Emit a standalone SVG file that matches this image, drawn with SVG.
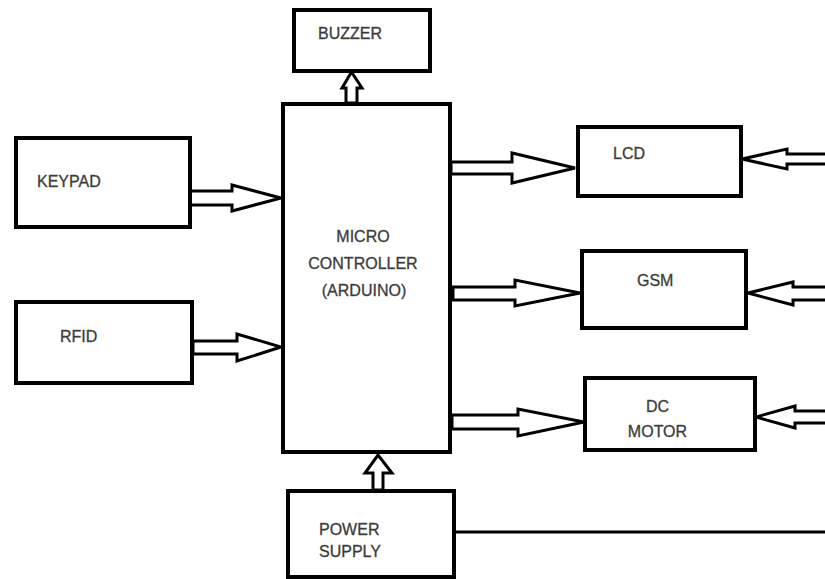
<svg xmlns="http://www.w3.org/2000/svg" width="825" height="579" viewBox="0 0 825 579">
<style>
.box{fill:#fff;stroke:#000;stroke-width:4}
.arr{fill:#fff;stroke:#000;stroke-width:3;stroke-linejoin:miter}
.t{font-family:"Liberation Sans",Arial,sans-serif;font-size:16px;fill:#333;stroke:#555;stroke-width:0.35}
.wire{fill:none;stroke:#000;stroke-width:3}
</style>
<rect width="825" height="579" fill="#fff"/>
<g id="connectors">
<polygon class="arr" points="346,103 346,88 342,88 351.5,72 362,88 357,88 357,103"/>
<polygon class="arr" points="373,490 373,473 365,473 378,455 392,473 383,473 383,490"/>
<polygon class="arr" points="190,191 232,191 232,185 281,198 232,211 232,205 190,205"/>
<polygon class="arr" points="193,341 237,341 237,334 281,347 237,361 237,354 193,354"/>
<polygon class="arr" points="451,162 512,162 512,153 575,168 512,183 512,174 451,174"/>
<polygon class="arr" points="453,287 515,287 515,280 580,293 515,306 515,300 453,300"/>
<polygon class="arr" points="452,415 518,415 518,409 584,422 518,436 518,429 452,429"/>
<polygon class="arr" points="828,154 787,154 787,149 742,159 787,169 787,164 828,164"/>
<polygon class="arr" points="828,287 793,287 793,282 748,293 793,305 793,300 828,300"/>
<polygon class="arr" points="828,411 795,411 795,406 756,417 795,428 795,423 828,423"/>
<path class="wire" d="M455,532 L825,532"/>
</g>
<g id="buzzer"><rect class="box" x="294" y="10" width="136" height="61"/><text class="t" x="318" y="39">BUZZER</text></g>
<g id="keypad"><rect class="box" x="16" y="138" width="174" height="89"/><text class="t" x="37" y="187">KEYPAD</text></g>
<g id="rfid"><rect class="box" x="16" y="302" width="176" height="81"/><text class="t" x="60" y="342">RFID</text></g>
<g id="microcontroller"><rect class="box" x="283" y="104" width="167" height="348"/>
<text class="t" x="363" y="242" text-anchor="middle">MICRO</text>
<text class="t" x="363" y="269" text-anchor="middle">CONTROLLER</text>
<text class="t" x="364" y="296" text-anchor="middle">(ARDUINO)</text></g>
<g id="lcd"><rect class="box" x="578" y="127" width="163" height="69"/><text class="t" x="613" y="159">LCD</text></g>
<g id="gsm"><rect class="box" x="582" y="251" width="164" height="77"/><text class="t" x="637" y="286">GSM</text></g>
<g id="dcmotor"><rect class="box" x="585" y="378" width="170" height="72"/>
<text class="t" x="657.5" y="412" text-anchor="middle">DC</text>
<text class="t" x="657.5" y="437" text-anchor="middle">MOTOR</text></g>
<g id="powersupply"><rect class="box" x="288" y="491" width="166" height="86"/>
<text class="t" x="319" y="535">POWER</text>
<text class="t" x="319" y="557">SUPPLY</text></g>
</svg>
